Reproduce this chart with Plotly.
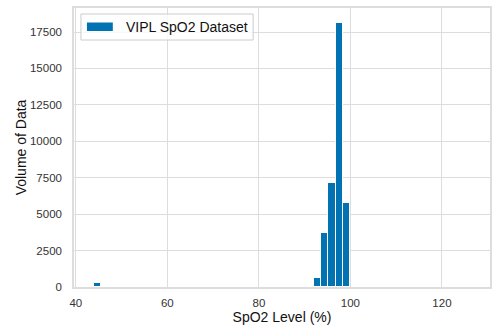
import plotly.graph_objects as go

# Histogram bins (left edge, width) and counts
bin_left = [44.0, 90.4, 92.0, 93.6, 95.2, 96.8, 98.4]
bin_width = 1.6
counts = [290, 60, 640, 3690, 7170, 18150, 5800]
x_ticks = [40, 60, 80, 100, 120]
y_ticks = [0, 2500, 5000, 7500, 10000, 12500, 15000, 17500]
series_name = "VIPL SpO2 Dataset"

BLUE = "#0173B2"
GRID = "#dddddd"
L, R, T, B = 74, 0, 8, 40
W, H = 492, 327
PW, PH = W - L - R, H - T - B

fig = go.Figure()
fig.add_trace(go.Bar(
    x=[b + bin_width / 2 for b in bin_left], y=counts, width=bin_width,
    name=series_name, showlegend=False,
    marker=dict(color=BLUE, line=dict(color="white", width=1)),
))

def px(xp):
    return (xp - L) / PW

def py(yp):
    return (H - B - yp) / PH

# custom legend (matplotlib look)
fig.add_shape(type="rect", xref="paper", yref="paper",
              x0=px(81), x1=px(254), y0=py(40), y1=py(14),
              line=dict(color="#cccccc", width=1), fillcolor="rgba(255,255,255,0.8)")
fig.add_shape(type="rect", xref="paper", yref="paper",
              x0=px(87), x1=px(113), y0=py(31), y1=py(22.5),
              line=dict(width=0), fillcolor=BLUE)
fig.add_annotation(xref="paper", yref="paper", x=px(124), y=py(27),
                   xanchor="left", yanchor="middle", showarrow=False,
                   text=series_name, font=dict(size=14, color="#111111"))

fig.update_layout(
    width=W, height=H, margin=dict(l=L, r=R, t=T, b=B),
    paper_bgcolor="white", plot_bgcolor="white",
    font=dict(family="Liberation Sans, Arial, sans-serif", color="#222222"),
    bargap=0,
)
fig.update_xaxes(
    range=[39.6, 130.5], tickvals=x_ticks, showgrid=True, gridcolor=GRID, gridwidth=1,
    zeroline=False, showline=True, linecolor=GRID, linewidth=1.5, mirror=True,
    tickfont=dict(size=11.5, color="#333333"), ticks="", ticklabelstandoff=4,
    title=dict(text="SpO2 Level (%)", font=dict(size=14, color="#111111"), standoff=3),
)
fig.update_yaxes(
    range=[0, 19150], tickvals=y_ticks, ticktext=[str(v) for v in y_ticks],
    showgrid=True, gridcolor=GRID, gridwidth=1,
    zeroline=False, showline=True, linecolor=GRID, linewidth=1.5, mirror=True,
    tickfont=dict(size=11.5, color="#333333"), ticks="", ticklabelstandoff=8,
    title=dict(text="Volume of Data", font=dict(size=14, color="#111111"), standoff=0),
)

fig.write_html("out.html")
